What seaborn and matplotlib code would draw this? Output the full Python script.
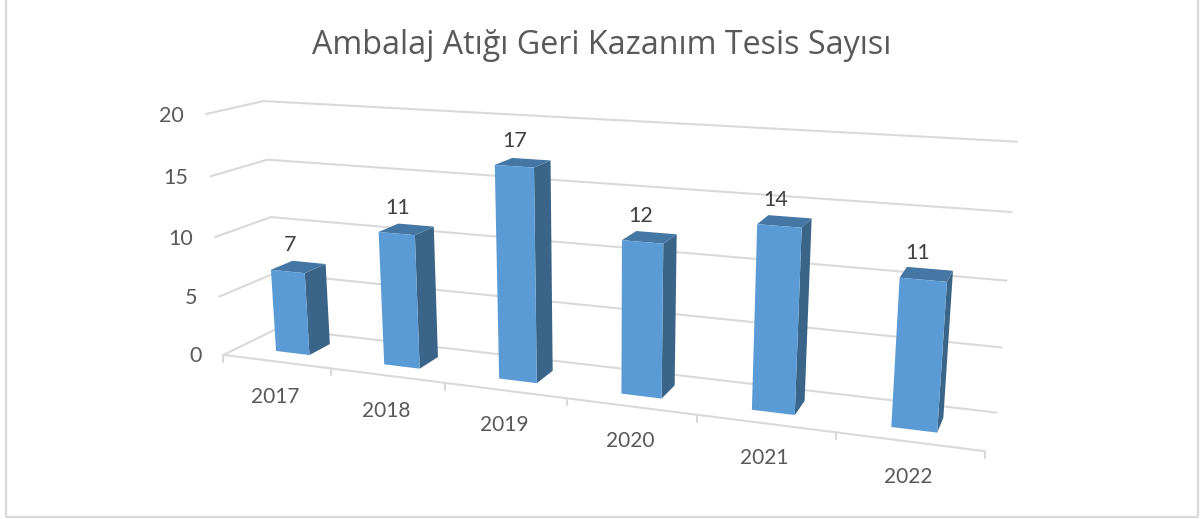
import numpy as np
import pandas as pd
import matplotlib
matplotlib.use("Agg")
import matplotlib.pyplot as plt
from matplotlib.patches import Polygon
from matplotlib.path import Path
from matplotlib.transforms import Transform
import seaborn as sns

title = "Ambalaj Atığı Geri Kazanım Tesis Sayısı"
years = ["2017", "2018", "2019", "2020", "2021", "2022"]
counts = [7, 11, 17, 12, 14, 11]
y_ticks = [0, 5, 10, 15, 20]

sns.set_theme(style="white")
plt.rcParams["font.family"] = ["Lato", "DejaVu Sans"]

W, H = 1200, 519
FRONT, SIDE, TOP = "#5B9BD5", "#3A6589", "#4577A5"
GRID, TXT, LBL = "#D9D9D9", "#595959", "#404040"
BAR_W, Z0, Z1 = 0.315, 0.3, 0.7
L0, R0 = 0.5 - BAR_W / 2, 0.5 + BAR_W / 2
L5, R5 = 5.5 - BAR_W / 2, 5.5 + BAR_W / 2

# Camera calibration: chart space (category, value, depth) -> image pixels
calib = [
    ((0, 20, 0), (205, 114)), ((0, 15, 0), (210, 177)), ((0, 10, 0), (214, 236)),
    ((0, 5, 0), (219, 296)), ((0, 0, 0), (224, 355)), ((6, 0, 0), (985, 452)),
    ((1, 0, 0), (332, 369)), ((2, 0, 0), (445, 383)), ((3, 0, 0), (567, 399)),
    ((4, 0, 0), (696, 415)), ((5, 0, 0), (834, 433)),
    ((0, 20, 1), (264, 101)), ((0, 15, 1), (268, 160)), ((0, 10, 1), (271, 217)),
    ((0, 0, 1), (275, 330)),
    ((6, 20, 1), (1017, 142)), ((6, 15, 1), (1012, 212)), ((6, 10, 1), (1006.5, 281)),
    ((6, 5, 1), (1001, 347)), ((6, 0, 1), (997, 412)),
    ((L0, 0, Z0), (277, 351)), ((R0, 0, Z0), (310, 354)), ((R0, 0, Z1), (330, 343)),
    ((L0, 7, Z0), (272, 270)), ((R0, 7, Z1), (326, 264)),
    ((L5, 0, Z0), (892, 427)), ((R5, 0, Z0), (938, 432)),
    ((L5, 11, Z0), (900, 277)), ((R5, 11, Z0), (947, 282)),
    ((R5, 11, Z1), (952, 271)), ((R5, 0, Z1), (943, 417)),
]
rows = []
for (X, Y, Z), (u, v) in calib:
    p = [X, Y, Z, 1]
    rows.append(p + [0, 0, 0, 0] + [-u * c for c in p])
    rows.append([0, 0, 0, 0] + p + [-v * c for c in p])
A = np.array(rows, float)
S = np.array([1, .05, 1, 1, 1, .05, 1, 1, 1, .05, 1, 1])
P = (np.linalg.svd(A * S)[2][-1] * S).reshape(3, 4)


def project(x, y, z):
    h = P @ np.array([x, y, z, 1.0])
    return h[0] / h[2], h[1] / h[2]


class FrontPlane(Transform):
    """Maps (categorical position, value) on the bars' front plane to pixels."""
    input_dims = output_dims = 2

    def transform_non_affine(self, values):
        v = np.asarray(values, float)
        return np.array([project(a + 0.5, b, Z0) for a, b in v])

    def transform_path_non_affine(self, path):
        return Path(self.transform_non_affine(path.vertices), path.codes)


fig = plt.figure(figsize=(W / 100, H / 100), dpi=100, facecolor="white")
canvas = fig.add_axes([0, 0, 1, 1], zorder=1)
canvas.set_xlim(0, W)
canvas.set_ylim(H, 0)
canvas.axis("off")

# chart-area frame
for xs, ys in [((6, 6), (0, 517)), ((6, 1198), (517, 517)), ((1198, 1198), (517, 0))]:
    canvas.plot(xs, ys, color="#D9D9D9", lw=1.6, solid_capstyle="butt")

line = dict(color=GRID, lw=1.5, solid_capstyle="round", zorder=1)
for t in y_ticks:
    a, b, c = project(0, t, 0), project(0, t, 1), project(6, t, 1)
    canvas.plot([a[0], b[0], c[0]], [a[1], b[1], c[1]], **line)
    canvas.text(a[0] - 22, a[1] + 1.5, str(t), ha="right", va="center",
                fontsize=15.5, color=TXT)

a, b = project(0, 0, 0), project(6, 0, 0)
canvas.plot([a[0], b[0]], [a[1], b[1]], **line)
for i in range(len(years) + 1):
    u, v = project(i, 0, 0)
    canvas.plot([u, u], [v, v + 7], **line)

# seaborn draws the front faces; the patches are then placed in the 3D scene
df = pd.DataFrame({"year": years, "count": counts})
ax = fig.add_axes([0, 0, 1, 1], zorder=2)
ax.patch.set_visible(False)
sns.barplot(data=df, x="year", y="count", color=FRONT, saturation=1, width=BAR_W, ax=ax)
ax.axis("off")
front = FrontPlane() + canvas.transData
for bar in ax.patches:
    bar.set_transform(front)
    bar.set_clip_on(False)
    bar.set_linewidth(0)

for i, (yr, val) in enumerate(zip(years, counts)):
    l, r = i + 0.5 - BAR_W / 2, i + 0.5 + BAR_W / 2
    side = [project(r, 0, Z0), project(r, 0, Z1), project(r, val, Z1), project(r, val, Z0)]
    top = [project(l, val, Z0), project(r, val, Z0), project(r, val, Z1), project(l, val, Z1)]
    canvas.add_patch(Polygon(side, closed=True, fc=SIDE, ec="none", zorder=2))
    canvas.add_patch(Polygon(top, closed=True, fc=TOP, ec="none", zorder=2))
    u, v = project(i + 0.5, val, 0.5)
    canvas.text(u - 8.5, v - 21.5, str(val), ha="center", va="center", fontsize=15.5, color=LBL)
    u, v = project(i + 0.5, 0, 0)
    canvas.text(u - 1, v + 35, yr, ha="center", va="center", fontsize=15, color=TXT)

canvas.text(602, 46, title, ha="center", va="center", fontsize=23.2, color=TXT,
            family="Open Sans")

fig.savefig("out.png", dpi=100, facecolor="white")
